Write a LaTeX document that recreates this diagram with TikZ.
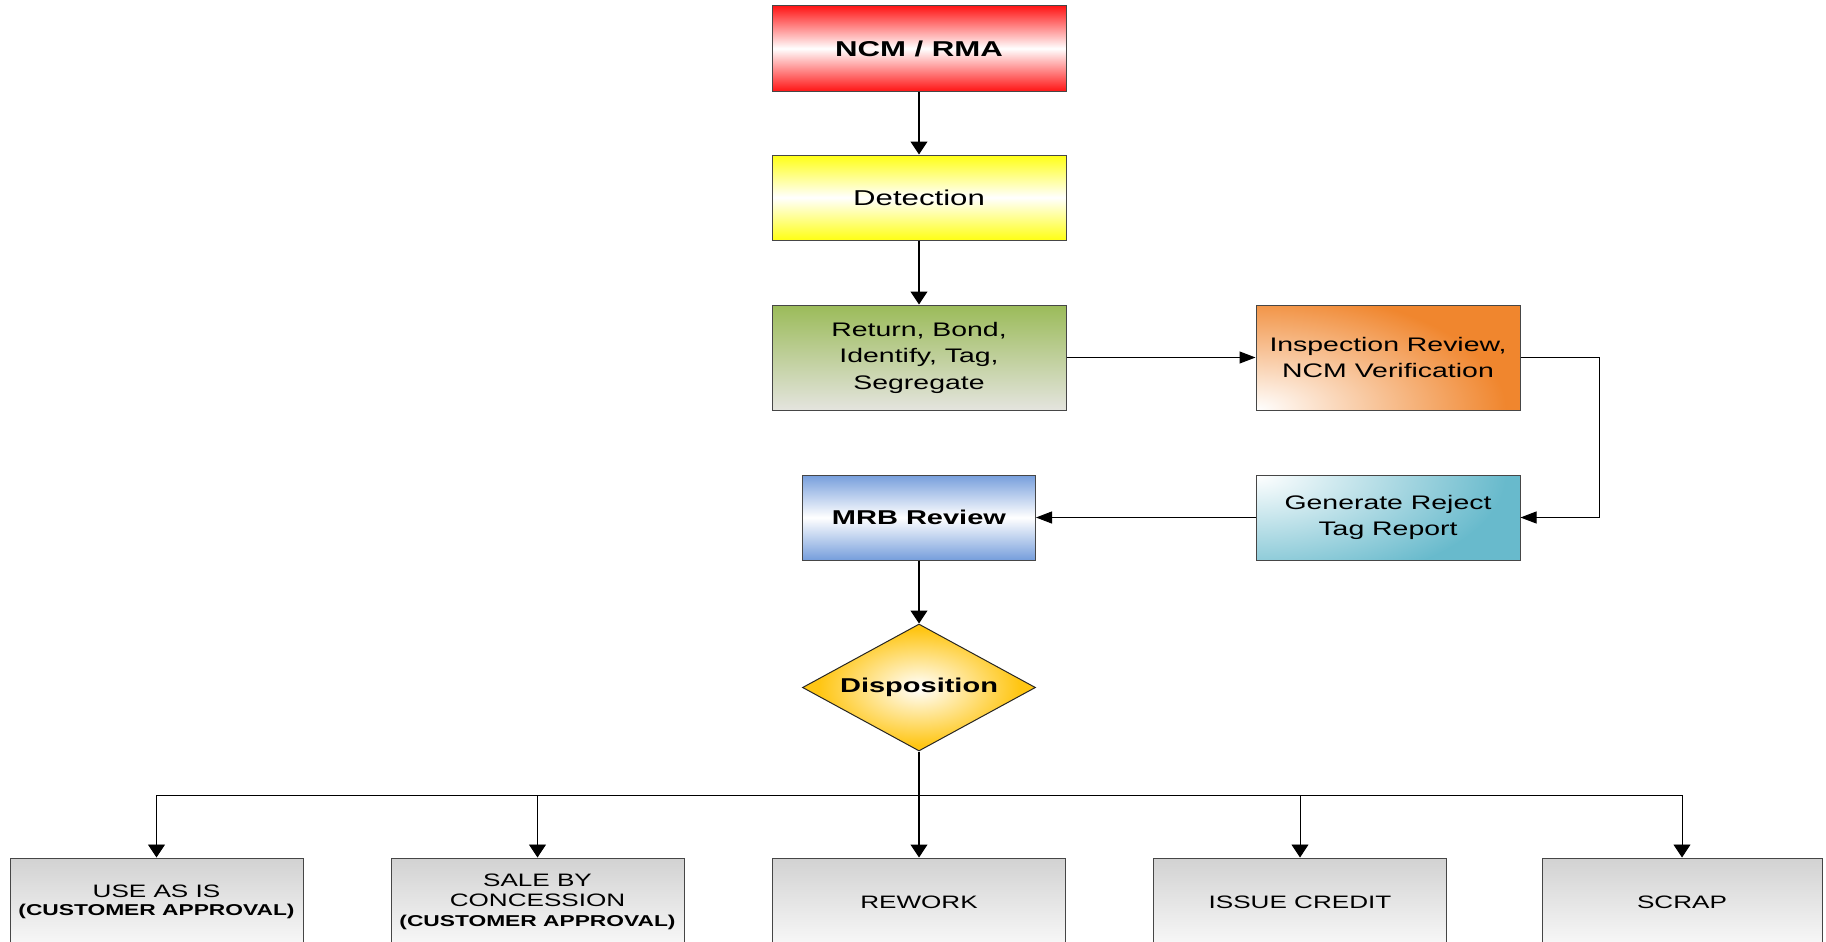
\documentclass[tikz,border=0pt]{standalone}
\usepackage{fontspec}
\setmainfont{Liberation Sans}[FakeStretch=1.45]
\usetikzlibrary{arrows.meta,shapes.geometric}

\definecolor{redC}{RGB}{255,22,22}
\definecolor{yelC}{RGB}{255,255,20}
\definecolor{grnTop}{RGB}{155,187,89}
\definecolor{grnBot}{RGB}{228,228,222}
\definecolor{orgC}{RGB}{240,134,46}
\definecolor{bluC}{RGB}{118,158,220}
\definecolor{tealC}{RGB}{104,186,204}
\definecolor{goldC}{RGB}{255,198,20}
\definecolor{grayTop}{RGB}{210,210,210}
\definecolor{grayBot}{RGB}{248,248,248}
\definecolor{edgeC}{RGB}{70,70,70}

% small bold line used under some outcomes
\newcommand{\apprfont}{\bfseries\fontsize{15.7}{19}\selectfont}

\begin{document}
\begin{tikzpicture}[x=1pt,y=-1pt,
  box/.style={draw=edgeC, line width=1pt, rectangle, inner sep=0pt, align=center,
              font=\fontsize{19.6}{26.5}\selectfont},
  headbox/.style={box, font=\bfseries\fontsize{21.5}{26}\selectfont},
  outbox/.style={box, minimum width=293pt, minimum height=88pt,
                 top color=grayTop, bottom color=grayBot,
                 font=\fontsize{18}{20}\selectfont},
  varrow/.style={line width=1.1pt, -{Triangle[length=13pt,width=17pt]}},
  busarrow/.style={line width=0.9pt, -{Triangle[length=13pt,width=17pt]}},
  harrow/.style={line width=1pt, -{Triangle[length=16pt,width=12pt]}}
]
\clip (0,0) rectangle (1826,942);
\fill[white] (0,0) rectangle (1826,942);

% main chain
\node[headbox, minimum width=294pt, minimum height=85pt,
      top color=redC, bottom color=redC, middle color=white] (ncm) at (919,48.5) {NCM / RMA};
\node[box, minimum width=294pt, minimum height=85pt, font=\fontsize{21.5}{26}\selectfont,
      top color=yelC, bottom color=yelC, middle color=white] (det) at (919,197.5) {Detection};
\node[box, minimum width=294pt, minimum height=105pt,
      top color=grnTop, bottom color=grnBot] (ret) at (919,357.5) {Return, Bond,\\Identify, Tag,\\Segregate};
\node[box, minimum width=264pt, minimum height=105pt,
      path picture={
        \fill[orgC] (path picture bounding box.south west) rectangle (path picture bounding box.north east);
        \shade[inner color=white, outer color=orgC] (path picture bounding box.south west)
              ellipse [x radius=250pt, y radius=120pt];
      }] (insp) at (1388,357.5) {Inspection Review,\\NCM Verification};
\node[box, minimum width=264pt, minimum height=85pt,
      path picture={
        \fill[tealC] (path picture bounding box.south west) rectangle (path picture bounding box.north east);
        \shade[inner color=white, outer color=tealC] (path picture bounding box.north west)
              ellipse [x radius=250pt, y radius=115pt];
      }] (gen) at (1388,517.5) {Generate Reject\\Tag Report};
\node[box, minimum width=233pt, minimum height=85pt, font=\bfseries\fontsize{20}{24}\selectfont,
      top color=bluC, bottom color=bluC, middle color=white] (mrb) at (919,517.5) {MRB Review};
\node[diamond, aspect=1.835, draw=black!85, line width=1pt, inner sep=0pt,
      minimum width=233pt, minimum height=127pt, font=\bfseries\fontsize{20}{24}\selectfont,
      path picture={
        \fill[goldC] (path picture bounding box.south west) rectangle (path picture bounding box.north east);
        \shade[inner color=white, outer color=goldC] (path picture bounding box.center)
              ellipse [x radius=100pt, y radius=58pt];
      }] (disp) at (919,687.5) {Disposition};

% outcomes
\node[outbox] (b1) at (156.5,902) {USE AS IS\\[-2pt]{\apprfont (CUSTOMER APPROVAL)}};
\node[outbox] (b2) at (537.5,902) {SALE BY\\CONCESSION\\{\apprfont (CUSTOMER APPROVAL)}};
\node[outbox] (b3) at (919,902) {REWORK};
\node[outbox] (b4) at (1300,902) {ISSUE CREDIT};
\node[outbox, minimum width=280pt] (b5) at (1682,902) {SCRAP};

% connectors
\draw[varrow] (ncm.south) -- (det.north);
\draw[varrow] (det.south) -- (ret.north);
\draw[harrow] (ret.east) -- (insp.west);
\coordinate (turn) at (1599,437);
\draw[harrow] (insp.east) -| (turn) |- (gen.east);
\draw[harrow] (gen.west) -- (mrb.east);
\draw[varrow] (mrb.south) -- (disp.north);

\coordinate (bus) at (919,795);
\draw[varrow] (disp.south) -- (b3.north);
\draw[busarrow] (bus) -| (b1.north);
\draw[busarrow] (bus) -| (b2.north);
\draw[busarrow] (bus) -| (b4.north);
\draw[busarrow] (bus) -| (b5.north);
\end{tikzpicture}
\end{document}
